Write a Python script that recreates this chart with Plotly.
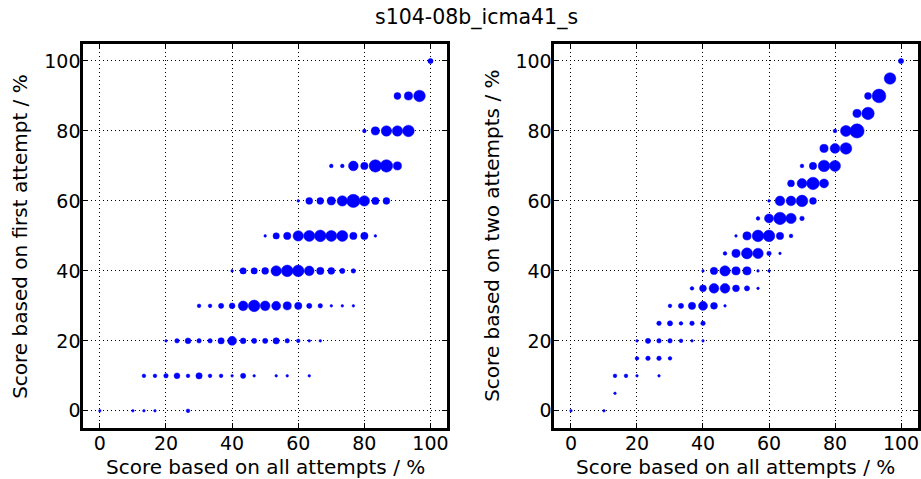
import plotly.graph_objects as go

# ---- data ----
# Left panel: score on first attempt vs score on all attempts; n ~ marker weight
left_x = [100,
          90, 93.33, 96.67,
          80, 83.33, 86.67, 90, 93.33,
          70, 73.33, 76.67, 80, 83.33, 86.67, 90,
          60, 63.33, 66.67, 70, 73.33, 76.67, 80, 83.33, 86.67,
          50, 53.33, 56.67, 60, 63.33, 66.67, 70, 73.33, 76.67, 80, 83.33,
          40, 43.33, 46.67, 50, 53.33, 56.67, 60, 63.33, 66.67, 70, 73.33, 76.67,
          30, 33.33, 36.67, 40, 43.33, 46.67, 50, 53.33, 56.67, 60, 63.33, 66.67, 70, 73.33, 76.67,
          20, 23.33, 26.67, 30, 33.33, 36.67, 40, 43.33, 46.67, 50, 53.33, 56.67, 60, 63.33, 66.67,
          13.33, 16.67, 20, 23.33, 26.67, 30, 33.33, 36.67, 40, 43.33, 46.67, 53.33, 56.67, 63.33,
          0, 10, 13.33, 16.67, 26.67]
left_y = [100,
          90, 90, 90,
          80, 80, 80, 80, 80,
          70, 70, 70, 70, 70, 70, 70,
          60, 60, 60, 60, 60, 60, 60, 60, 60,
          50, 50, 50, 50, 50, 50, 50, 50, 50, 50, 50,
          40, 40, 40, 40, 40, 40, 40, 40, 40, 40, 40, 40,
          30, 30, 30, 30, 30, 30, 30, 30, 30, 30, 30, 30, 30, 30, 30,
          20, 20, 20, 20, 20, 20, 20, 20, 20, 20, 20, 20, 20, 20, 20,
          10, 10, 10, 10, 10, 10, 10, 10, 10, 10, 10, 10, 10, 10,
          0, 0, 0, 0, 0]
left_n = [4,
          7, 10, 20,
          2, 10, 16, 16, 20,
          2, 2, 14, 8, 23, 23, 10,
          1, 7, 7, 10, 16, 26, 16, 8, 7,
          1, 6, 8, 16, 18, 20, 18, 18, 8, 8, 1,
          1, 6, 6, 7, 16, 20, 20, 14, 8, 7, 4, 3,
          2, 2, 4, 5, 14, 20, 14, 12, 10, 8, 4, 3, 1, 1, 1,
          1, 3, 5, 3, 3, 6, 12, 5, 4, 4, 6, 3, 2, 1, 1,
          2, 2, 3, 5, 2, 6, 2, 2, 1, 4, 1, 1, 1, 1,
          1, 1, 1, 1, 2]

# Right panel: score on two attempts vs score on all attempts
right_x = [100,
           96.67,
           90, 93.33,
           86.67, 90,
           80, 83.33, 86.67,
           76.67, 80, 83.33,
           70, 73.33, 76.67, 80,
           66.67, 70, 73.33, 76.67,
           60, 63.33, 66.67, 70, 73.33,
           56.67, 60, 63.33, 66.67, 70,
           50, 53.33, 56.67, 60, 63.33, 66.67,
           46.67, 50, 53.33, 56.67, 60, 63.33,
           40, 43.33, 46.67, 50, 53.33, 56.67, 60,
           36.67, 40, 43.33, 46.67, 50, 53.33, 56.67,
           30, 33.33, 36.67, 40, 43.33, 46.67,
           26.67, 30, 33.33, 36.67, 40,
           20, 23.33, 26.67, 30, 33.33, 36.67, 40,
           20, 23.33, 26.67, 30,
           13.33, 16.67, 20, 26.67,
           13.33,
           0, 10]
right_y = [100,
           95,
           90, 90,
           85, 85,
           80, 80, 80,
           75, 75, 75,
           70, 70, 70, 70,
           65, 65, 65, 65,
           60, 60, 60, 60, 60,
           55, 55, 55, 55, 55,
           50, 50, 50, 50, 50, 50,
           45, 45, 45, 45, 45, 45,
           40, 40, 40, 40, 40, 40, 40,
           35, 35, 35, 35, 35, 35, 35,
           30, 30, 30, 30, 30, 30,
           25, 25, 25, 25, 25,
           20, 20, 20, 20, 20, 20, 20,
           15, 15, 15, 15,
           10, 10, 10, 10,
           5,
           0, 0]
right_n = [4,
           20,
           7, 28,
           10, 23,
           2, 18, 30,
           10, 14, 20,
           2, 8, 20, 18,
           7, 14, 23, 12,
           1, 14, 14, 20, 7,
           2, 12, 23, 16, 3,
           1, 10, 20, 20, 8, 2,
           2, 10, 18, 16, 3, 1,
           1, 8, 16, 10, 10, 1, 1,
           2, 7, 14, 14, 7, 4, 1,
           2, 4, 8, 12, 7, 1,
           3, 4, 2, 3, 3,
           1, 4, 3, 3, 2, 1, 1,
           2, 3, 3, 2,
           2, 2, 1, 1,
           1,
           1, 1]

tick_vals = [0, 20, 40, 60, 80, 100]
title_text = "s104-08b_icma41_s"
x_title = "Score based on all attempts / %"
y_title_left = "Score based on first attempt / %"
y_title_right = "Score based on two attempts / %"

W, H = 921, 479
FONT = "DejaVu Sans"


def diam(ns):
    return [2.6 * (n ** 0.5) for n in ns]


fig = go.Figure()
for xs, ys, ns, xa, ya in [(left_x, left_y, left_n, "x", "y"),
                           (right_x, right_y, right_n, "x2", "y2")]:
    fig.add_trace(go.Scatter(x=xs, y=ys, mode="markers", xaxis=xa, yaxis=ya,
                             marker=dict(size=diam(ns), color="#0000ff", opacity=1,
                                         line=dict(width=0.5, color="#0000ff")),
                             showlegend=False, hoverinfo="skip"))

# plot-area pixel boxes
L1, R1 = 83.5, 448.0
L2, R2 = 555.7, 919.5
T, B = 43.5, 428.3


def px_x(p):
    return p / W


def px_y(p):
    return 1 - p / H


axis_common = dict(
    range=[-5, 105], tickvals=tick_vals, showline=True, linewidth=3, linecolor="black",
    mirror="allticks", ticks="inside", ticklen=5, tickwidth=1, tickcolor="black",
    showgrid=True, gridcolor="black", gridwidth=1, griddash="1px,3px",
    zeroline=False, tickfont=dict(family=FONT, size=19, color="black"),
    fixedrange=True,
)

fig.update_layout(
    width=W, height=H,
    margin=dict(l=0, r=0, t=0, b=0),
    paper_bgcolor="white", plot_bgcolor="white",
    xaxis=dict(axis_common, domain=[px_x(L1), px_x(R1)], anchor="y", ticklabelstandoff=-4),
    yaxis=dict(axis_common, domain=[px_y(B), px_y(T)], anchor="x", ticklabelstandoff=-4),
    xaxis2=dict(axis_common, domain=[px_x(L2), px_x(R2)], anchor="y2", ticklabelstandoff=-4),
    yaxis2=dict(axis_common, domain=[px_y(B), px_y(T)], anchor="x2", ticklabelstandoff=-4),
    font=dict(family=FONT, color="black"),
)

annotations = [
    dict(text=title_text, x=px_x(477.5), y=px_y(17), xref="paper", yref="paper",
         showarrow=False, xanchor="center", yanchor="middle",
         font=dict(family=FONT, size=20.5, color="black")),
    dict(text=x_title, x=px_x((L1 + R1) / 2), y=px_y(467), xref="paper", yref="paper",
         showarrow=False, xanchor="center", yanchor="middle",
         font=dict(family=FONT, size=20, color="black")),
    dict(text=x_title, x=px_x((L2 + R2) / 2), y=px_y(467), xref="paper", yref="paper",
         showarrow=False, xanchor="center", yanchor="middle",
         font=dict(family=FONT, size=20, color="black")),
    dict(text=y_title_left, x=px_x(20), y=px_y((T + B) / 2), xref="paper", yref="paper",
         showarrow=False, xanchor="center", yanchor="middle", textangle=-90,
         font=dict(family=FONT, size=20, color="black")),
    dict(text=y_title_right, x=px_x(493), y=px_y((T + B) / 2), xref="paper", yref="paper",
         showarrow=False, xanchor="center", yanchor="middle", textangle=-90,
         font=dict(family=FONT, size=20, color="black")),
]
fig.update_layout(annotations=annotations)

fig.write_html("out.html")
